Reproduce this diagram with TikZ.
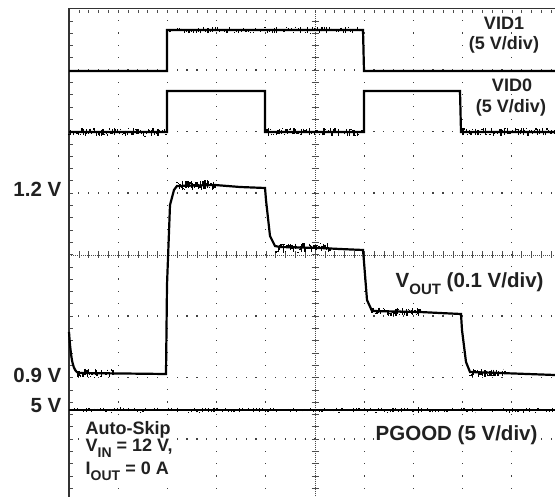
\documentclass[tikz,border=0pt]{standalone}
\usepackage{fontspec}
\setmainfont{Liberation Sans}
\newcommand\mysub[2]{\raisebox{-0.32em}{\fontsize{#2}{#2}\selectfont #1}}
\newcommand\noiseband[5]{% x1 x2 y amp count
  \pgfmathsetmacro\nstep{(#2-#1)/#5}%
  \foreach \i in {0,...,#5}{%
    \pgfmathsetmacro\xx{#1+\nstep*\i}%
    \pgfmathsetmacro\aa{#4*rand}%
    \pgfmathsetmacro\bb{#4*rand}%
    \draw[noise] (\xx,#3+\aa) -- (\xx,#3+\bb);
  }}
\begin{document}
\begin{tikzpicture}[x=1pt,y=-1pt,
  trace/.style={line width=2.2pt, line join=miter, black},
  noise/.style={line width=1.2pt, black},
  gdot/.style={fill=black!75},
  ctr/.style={black!70, line width=0.6pt, dash pattern=on 1pt off 1pt},
  tick/.style={black!70, line width=0.5pt},
  lblA/.style={font=\bfseries\fontsize{18}{20}\selectfont, inner sep=1.5pt, fill=white, text=black!87},
  lblB/.style={font=\bfseries\fontsize{20.5}{22}\selectfont, inner sep=1.5pt, fill=white, text=black!87}]
\useasboundingbox (0,0) rectangle (555,497);
\fill[white] (0,0) rectangle (555,497);
\pgfmathsetseed{11}
% grid dots (vertical lines)
\foreach \k in {1,2,3,4,6,7,8,9}{
  \pgfmathsetmacro\gx{69+49.2*\k}
  \foreach \m in {1,...,39}{
    \fill[gdot] (\gx-0.6,8.5+12.3*\m-0.6) rectangle ++(1.2,1.2);
  }
}
% grid dots (horizontal lines)
\foreach \j in {1,2,3,5,6,7}{
  \pgfmathsetmacro\gy{8.5+61.5*\j}
  \foreach \m in {1,...,49}{
    \fill[gdot] (69+9.84*\m-0.6,\gy-0.6) rectangle ++(1.2,1.2);
  }
}
% center lines
\draw[ctr] (315,8.5) -- (315,497);
\draw[ctr] (69,255) -- (555,255);
\foreach \m in {1,...,39}{
  \draw[tick] (311.5,8.5+12.3*\m) -- (318.5,8.5+12.3*\m);
}
\foreach \m in {1,...,49}{
  \draw[tick] (69+9.84*\m,251.5) -- (69+9.84*\m,258.5);
}
% frame and edge ticks
\draw[line width=1.2pt, black!80] (69,497) -- (69,8.5) -- (555,8.5);
\foreach \m in {1,...,49}{
  \draw[tick] (69+9.84*\m,10) -- (69+9.84*\m,13.5);
}
\foreach \m in {1,...,39}{
  \draw[tick] (70,8.5+12.3*\m) -- (73,8.5+12.3*\m);
}
% VID1
\draw[trace] (69,71) -- (167,71) -- (167,30) -- (363,30) -- (364,71) -- (555,71);
\noiseband{170}{360}{30}{3.5}{80}
% VID0
\draw[trace] (69,132) -- (167,132) -- (167,91) -- (265,91) -- (265,132) -- (364,132) -- (364,91) -- (460,91) -- (461,132) -- (555,132);
\noiseband{69}{166}{132}{4}{60}
\noiseband{267}{362}{132}{4}{60}
\noiseband{463}{555}{132}{4}{58}
% VOUT
\draw[trace] (69,332) .. controls (71,360) and (73,372) .. (79,373) -- (166,374) -- (167,285) -- (170,205) -- (174,190) -- (177,186) -- (215,185) -- (240,187) -- (265,188) -- (266,200) -- (270,236) -- (275,246) -- (280,247) -- (320,248) -- (340,249) -- (363,250) -- (364,262) -- (367,300) -- (372,311) -- (420,312) -- (440,313) -- (461,314) -- (462,330) -- (466,362) -- (470,372) -- (500,373) -- (555,375);
\noiseband{78}{113}{373}{4.5}{30}
\noiseband{177}{215}{185}{5}{34}
\noiseband{276}{330}{248}{5}{44}
\noiseband{372}{420}{312}{4.5}{38}
\noiseband{470}{505}{373}{4.5}{28}
% PGOOD
\draw[line width=1.4pt] (69,410) -- (555,410);
\noiseband{72}{555}{410}{2.6}{170}
% labels
\node[lblA, anchor=base] (vid1) at (504,30) {VID1};
\node[lblA, anchor=base] (vid1d) at (504,50) {(5 V/div)};
\node[lblA, anchor=base] (vid0) at (512,92) {VID0};
\node[lblA, anchor=base] (vid0d) at (511,113) {(5 V/div)};
\node[lblB, anchor=base east] (l12) at (63,197) {1.2 V};
\node[lblB, anchor=base east] (l09) at (63,383) {0.9 V};
\node[lblB, anchor=base east] (l5) at (63,413) {5 V};
\node[lblB, anchor=base west] (vout) at (394,288) {V\mysub{OUT}{15} (0.1 V/div)};
\node[lblA, anchor=base west] (auto) at (84,435) {Auto-Skip};
\node[lblA, anchor=base west] (vin) at (84,452) {V\mysub{IN}{14} = 12 V,};
\node[lblA, anchor=base west] (iout) at (84,475) {I\mysub{OUT}{14} = 0 A};
\node[lblB, anchor=base west] (pg) at (374,440) {PGOOD (5 V/div)};
\end{tikzpicture}
\end{document}
